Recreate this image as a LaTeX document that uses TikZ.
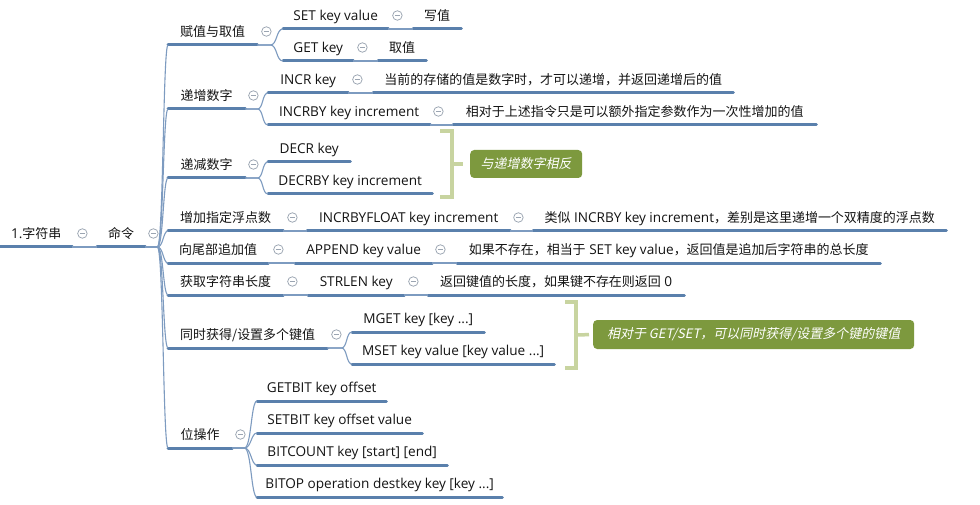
\documentclass[tikz,border=0pt]{standalone}
\usepackage{fontspec}
\setmainfont{Open Sans}
\newfontfamily\cjk[Scale=0.955]{Noto Sans CJK SC}
\newfontfamily\cjkit[FakeSlant=0.2]{Noto Sans CJK SC}
\definecolor{ulcol}{RGB}{90,128,172}
\definecolor{conncol}{RGB}{125,155,192}
\definecolor{foldcol}{RGB}{155,165,178}
\definecolor{brcol}{RGB}{200,212,160}
\definecolor{cocol}{RGB}{125,153,62}
\definecolor{txtcol}{RGB}{20,20,20}
\tikzset{
  topic/.style={anchor=south west, inner xsep=0pt, inner ysep=0pt,
    minimum height=23pt, text height=9.5pt, text depth=2.5pt,
    font=\fontsize{13.6}{15}\selectfont, text=txtcol,
    append after command={(\tikzlastnode.south west) edge[uline] (\tikzlastnode.south east)}},
  uline/.style={draw=ulcol, line width=3pt, line cap=round},
  conn/.style={draw=conncol, line width=1.1pt},
  fold/.style={circle, draw=foldcol, line width=0.75pt, minimum size=9.5pt, inner sep=0pt,
    path picture={\draw[foldcol, line width=0.75pt]
      ([xshift=-2.5pt]path picture bounding box.center) -- ([xshift=2.5pt]path picture bounding box.center);}},
  bracket/.style={draw=brcol, line width=3.5pt},
  callout/.style={fill=cocol, rounded corners=4pt, text=white, inner sep=0pt,
    anchor=west, font=\cjkit\fontsize{13}{15}\selectfont}
}
\begin{document}
\begin{tikzpicture}[x=1pt,y=-1pt]
\useasboundingbox (0,0) rectangle (980,505);
\fill[white] (0,0) rectangle (980,505);

% root and level 1
\node[topic, minimum width=72] (root) at (0,247) {1.{\cjk 字符串}};
\node[fold] (f-root) at ([xshift=10pt,yshift=13.5pt]root.south east) {};
\node[topic, minimum width=48] (cmd) at (97,247) {\cjk 命令};
\node[fold] (f-cmd) at ([xshift=8pt,yshift=13.5pt]cmd.south east) {};
\draw[conn] (root.south east) -- (cmd.south west);

% level 2
\node[topic, minimum width=89]  (fz) at (168,45)  {\cjk 赋值与取值};
\node[topic, minimum width=77]  (dz) at (168,109) {\cjk 递增数字};
\node[topic, minimum width=77]  (dj) at (168,178) {\cjk 递减数字};
\node[topic, minimum width=115] (fd) at (168,231) {\cjk 增加指定浮点数};
\node[topic, minimum width=100] (zj) at (168,263) {\cjk 向尾部追加值};
\node[topic, minimum width=115] (cd) at (168,295) {\cjk 获取字符串长度};
\node[topic, minimum width=159] (dg) at (168,348) {\cjk 同时获得/设置多个键值};
\node[topic, minimum width=64]  (bw) at (168,448) {\cjk 位操作};
\node[fold] (f-fz) at ([xshift=9pt,yshift=13.5pt]fz.south east) {};
\node[fold] (f-dz) at ([xshift=8pt,yshift=13.5pt]dz.south east) {};
\node[fold] (f-dj) at ([xshift=8pt,yshift=13.5pt]dj.south east) {};
\node[fold] (f-fd) at ([xshift=9pt,yshift=13.5pt]fd.south east) {};
\node[fold] (f-zj) at ([xshift=10pt,yshift=13.5pt]zj.south east) {};
\node[fold] (f-cd) at ([xshift=9pt,yshift=13.5pt]cd.south east) {};
\node[fold] (f-dg) at ([xshift=9pt,yshift=13.5pt]dg.south east) {};
\node[fold] (f-bw) at ([xshift=8pt,yshift=13.5pt]bw.south east) {};
\foreach \n in {fz,dz,dj,fd,zj,cd,dg,bw}
  \draw[conn] (cmd.south east) -- ++(12,0) .. controls +(6,0) and +(-5,0) .. (\n.south west);

% level 3: 赋值与取值
\node[topic, minimum width=105] (set) at (283,29) {SET key value};
\node[topic, minimum width=70]  (get) at (283,61) {GET key};
\node[fold] (f-set) at ([xshift=9pt,yshift=13.5pt]set.south east) {};
\node[fold] (f-get) at ([xshift=9pt,yshift=13.5pt]get.south east) {};
\node[topic, minimum width=48] (wz) at (413,29) {\cjk 写值};
\node[topic, minimum width=48] (qz) at (378,61) {\cjk 取值};
\foreach \n in {set,get}
  \draw[conn] (fz.south east) -- ++(13,0) .. controls +(7,0) and +(-7,0) .. (\n.south west);
\draw[conn] (set.south east) -- (wz.south west);
\draw[conn] (get.south east) -- (qz.south west);

% 递增数字
\node[topic, minimum width=80]  (incr) at (268,93) {INCR key};
\node[topic, minimum width=162] (incrby) at (268,125) {INCRBY key increment};
\node[fold] (f-incr) at ([xshift=9pt,yshift=13.5pt]incr.south east) {};
\node[fold] (f-incrby) at ([xshift=8pt,yshift=13.5pt]incrby.south east) {};
\node[topic, minimum width=360] (incrd) at (373,93) {\cjk 当前的存储的值是数字时，才可以递增，并返回递增后的值};
\node[topic, minimum width=363] (incrbyd) at (453,125) {\cjk 相对于上述指令只是可以额外指定参数作为一次性增加的值};
\foreach \n in {incr,incrby}
  \draw[conn] (dz.south east) -- ++(12,0) .. controls +(6,0) and +(-6,0) .. (\n.south west);
\draw[conn] (incr.south east) -- (incrd.south west);
\draw[conn] (incrby.south east) -- (incrbyd.south west);

% 递减数字
\node[topic, minimum width=82]  (decr) at (268,162) {DECR key};
\node[topic, minimum width=164] (decrby) at (268,194) {DECRBY key increment};
\foreach \n in {decr,decrby}
  \draw[conn] (dj.south east) -- ++(12,0) .. controls +(6,0) and +(-6,0) .. (\n.south west);
\coordinate (b1) at (452,164);
\draw[bracket] (440,131) -- (452,131) -- (452,197) -- (440,197);
\node[callout, minimum width=112pt, minimum height=28pt] (co1) at (470,164) {与递增数字相反};
\draw[bracket, shorten >=7pt] (b1) -- (co1.west);

% 增加指定浮点数
\node[topic, minimum width=203] (fl) at (307,231) {INCRBYFLOAT key increment};
\node[fold] (f-fl) at ([xshift=8pt,yshift=13.5pt]fl.south east) {};
\node[topic, minimum width=413] (fld) at (533,231) {{\cjk 类似} INCRBY key increment{\cjk ，差别是这里递增一个双精度的浮点数}};
\draw[conn] (fd.south east) -- (fl.south west);
\draw[conn] (fl.south east) -- (fld.south west);

% 向尾部追加值
\node[topic, minimum width=137] (ap) at (295,263) {APPEND key value};
\node[fold] (f-ap) at ([xshift=8pt,yshift=13.5pt]ap.south east) {};
\node[topic, minimum width=423] (apd) at (457,263) {{\cjk 如果不存在，相当于} SET key value{\cjk ，返回值是追加后字符串的总长度}};
\draw[conn] (zj.south east) -- (ap.south west);
\draw[conn] (ap.south east) -- (apd.south west);

% 获取字符串长度
\node[topic, minimum width=96] (sl) at (308,295) {STRLEN key};
\node[fold] (f-sl) at ([xshift=9pt,yshift=13.5pt]sl.south east) {};
\node[topic, minimum width=256] (sld) at (428,295) {{\cjk 返回键值的长度，如果键不存在则返回} 0};
\draw[conn] (cd.south east) -- (sl.south west);
\draw[conn] (sl.south east) -- (sld.south west);

% 同时获得/设置多个键值
\node[topic, minimum width=132] (mg) at (352,332) {MGET key [key ...]};
\node[topic, minimum width=202] (ms) at (352,364) {MSET key value [key value ...]};
\foreach \n in {mg,ms}
  \draw[conn] (dg.south east) -- ++(14,0) .. controls +(6,0) and +(-6,0) .. (\n.south west);
\coordinate (b2) at (576,335);
\draw[bracket] (565,302) -- (576,302) -- (576,368) -- (565,368);
\node[callout, minimum width=321pt, minimum height=29pt] (co2) at (593,334.5) {相对于 GET/SET，可以同时获得/设置多个键的键值};
\draw[bracket, shorten >=4pt] (b2) -- (co2.west);

% 位操作
\node[topic, minimum width=129] (gb) at (257,401) {GETBIT key offset};
\node[topic, minimum width=165] (sb) at (257,433) {SETBIT key offset value};
\node[topic, minimum width=190] (bc) at (257,465) {BITCOUNT key [start] [end]};
\node[topic, minimum width=245] (bo) at (257,497) {BITOP operation destkey key [key ...]};
\foreach \n in {gb,sb,bc,bo}
  \draw[conn] (bw.south east) -- ++(12,0) .. controls +(7,0) and +(-6,0) .. (\n.south west);
\end{tikzpicture}
\end{document}
